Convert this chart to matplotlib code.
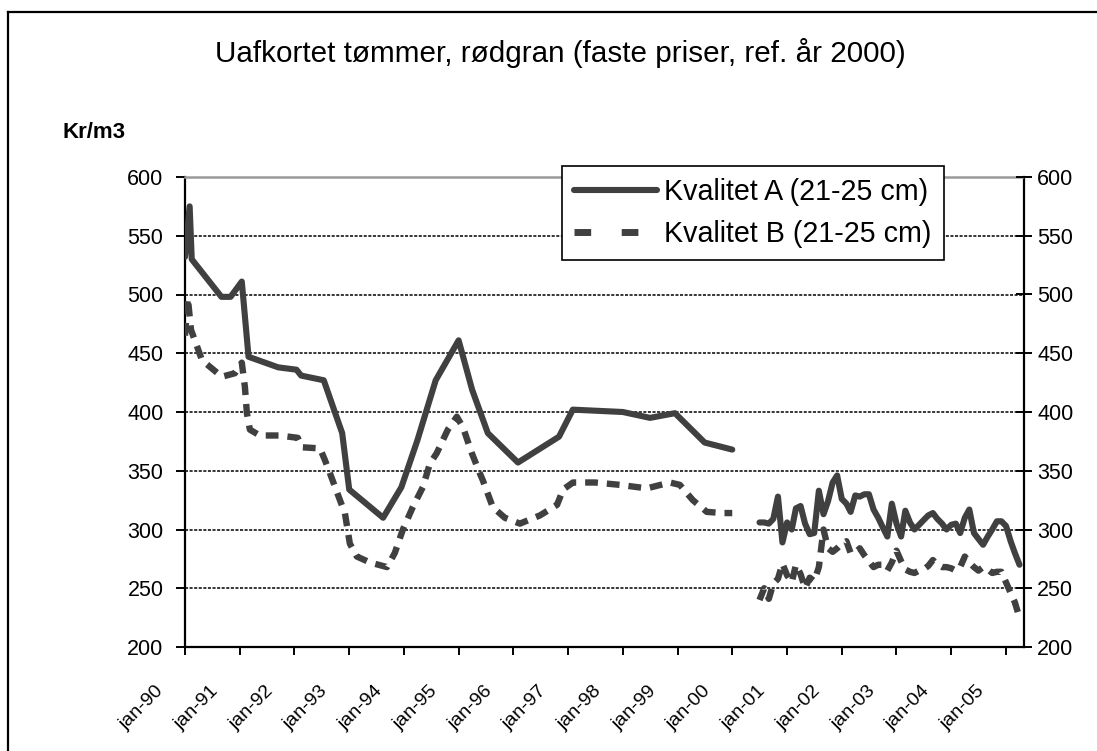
import numpy as np
import pandas as pd
import matplotlib
matplotlib.use('Agg')
import matplotlib.pyplot as plt
from matplotlib.lines import Line2D
from matplotlib.transforms import ScaledTranslation

plt.rcParams['font.family'] = ['Liberation Sans', 'DejaVu Sans']

# Kvalitet A, 1990-2000 (uregelmessige datoer)
datoer_a_90 = ['1990-01-01', '1990-02-01', '1990-02-15', '1990-09-01', '1990-11-01',
               '1991-01-15', '1991-03-01', '1991-09-15', '1992-01-15', '1992-02-15',
               '1992-07-15', '1992-11-15', '1993-01-01', '1993-08-15', '1993-12-15',
               '1994-04-01', '1994-08-01', '1995-01-01', '1995-04-01', '1995-07-15',
               '1996-02-01', '1996-11-01', '1997-02-01', '1998-01-01', '1998-07-01',
               '1998-12-15', '1999-07-01', '2000-01-01']
kval_a_90 = [532, 575, 530, 498, 498, 511, 447, 438, 436, 431, 427, 382, 334, 310, 336,
             376, 427, 461, 419, 382, 357, 379, 402, 400, 395, 399, 374, 368]

# Kvalitet B, 1990-2000
datoer_b_90 = ['1990-01-01', '1990-01-20', '1990-02-10', '1990-04-25', '1990-09-04',
               '1990-11-30', '1991-01-15', '1991-02-05', '1991-02-18', '1991-03-10',
               '1991-05-15', '1991-09-25', '1992-01-24', '1992-02-20', '1992-06-20',
               '1992-07-23', '1992-08-25', '1992-10-31', '1992-12-03', '1993-01-05',
               '1993-02-21', '1993-05-18', '1993-09-10', '1993-11-01', '1993-12-25',
               '1994-03-01', '1994-05-07', '1994-06-23', '1994-08-08', '1994-10-21',
               '1994-12-20', '1995-01-30', '1995-03-30', '1995-05-22', '1995-06-11',
               '1995-08-17', '1995-11-05', '1996-02-14', '1996-06-27', '1996-10-19',
               '1996-11-28', '1997-02-02', '1997-06-29', '1997-12-12', '1998-06-10',
               '1998-11-11', '1999-01-16', '1999-04-13', '1999-07-15', '1999-10-30',
               '2000-01-01']
kval_b_90 = [465, 497, 470, 444, 430, 433, 442, 421, 399, 385, 380, 380, 378, 370, 369,
             359, 348, 325, 314, 288, 277, 272, 268, 280, 300, 319, 336, 356, 365, 385,
             396, 387, 365, 348, 342, 319, 310, 305, 312, 321, 334, 340, 340, 338, 335,
             340, 338, 325, 315, 314, 314]

# maanedlige priser juli 2000 - april 2005
start_mnd = '2000-07-01'
kval_a_00 = [306, 306, 305, 309, 328, 289, 306, 300, 318, 320, 305, 296, 297, 333, 313,
             324, 340, 346, 326, 322, 315, 329, 328, 330, 330, 317, 310, 302, 294, 322,
             305, 294, 316, 306, 300, 304, 308, 312, 314, 309, 305, 300, 304, 305, 297,
             310, 317, 297, 292, 287, 294, 300, 307, 307, 303, 290, 280, 270]
kval_b_00 = [240, 250, 241, 254, 258, 271, 261, 255, 270, 262, 250, 259, 256, 268, 300,
             284, 281, 284, 288, 290, 280, 280, 284, 278, 273, 268, 270, 270, 265, 272,
             282, 273, 266, 264, 263, 265, 266, 269, 274, 270, 268, 268, 267, 265, 268,
             277, 272, 268, 265, 268, 266, 263, 264, 264, 255, 246, 238, 225]

aar = list(range(1990, 2006))
x_etiketter = [f'jan-{a % 100:02d}' for a in aar]

mnd_00 = pd.date_range(start_mnd, periods=len(kval_a_00), freq='MS')
hull = pd.to_datetime(['2000-04-01'])

x_a = pd.to_datetime(datoer_a_90).append(hull).append(mnd_00)
y_a = np.concatenate([kval_a_90, [np.nan], kval_a_00])
x_b = pd.to_datetime(datoer_b_90).append(hull).append(mnd_00)
y_b = np.concatenate([kval_b_90, [np.nan], kval_b_00])

farge = '#404040'
W, H = 1097, 751
fig = plt.figure(figsize=(W / 100, H / 100), dpi=100)
ax = fig.add_axes([185 / W, 1 - 647 / H, (1024 - 185) / W, (647 - 177) / H])

ax.plot(x_a, y_a, color=farge, lw=4.4, solid_capstyle='round', solid_joinstyle='round', zorder=3)
ax.plot(x_b, y_b, color=farge, lw=4.6, dashes=(2.0, 1.4), dash_capstyle='butt', zorder=3)

ax.set_ylim(200, 600)
ax.set_yticks(range(200, 601, 50))
ax.set_xlim(pd.Timestamp('1990-01-01'), pd.Timestamp('2005-05-01'))
ax.set_xticks(pd.to_datetime([f'{a}-01-01' for a in aar]))
ax.set_xticklabels(x_etiketter, rotation=45, ha='center', va='center', fontsize=14)

for g in range(250, 600, 50):
    ax.axhline(g, color='black', lw=1.1, ls=(0, (2, 1)), zorder=1)

for s in ['left', 'bottom', 'right']:
    ax.spines[s].set_linewidth(1.6)
ax.spines['top'].set_color('#999999')
ax.spines['top'].set_linewidth(1.8)
ax.spines['top'].set_linestyle((0, (2, 1)))

ax.tick_params(axis='y', direction='out', length=6.5, width=1.4, pad=9, labelsize=15.5)
ax.tick_params(axis='x', direction='out', length=6, width=1.4, pad=38)
for lab in ax.get_xticklabels():
    lab.set_transform(lab.get_transform() + ScaledTranslation(-0.43, 0, fig.dpi_scale_trans))

ax2 = ax.twinx()
ax2.set_ylim(200, 600)
ax2.set_yticks(range(200, 601, 50))
ax2.tick_params(axis='y', direction='inout', length=12, width=1.4, pad=3.6, labelsize=15.5)
for s in ax2.spines.values():
    s.set_visible(False)

# legende
h_a = Line2D([], [], color=farge, lw=4.4, solid_capstyle='round')
h_b = Line2D([], [], color=farge, lw=5, dashes=(2.4, 4.4), dash_capstyle='butt')
leg = ax.legend([h_a, h_b], ['Kvalitet A (21-25 cm)', 'Kvalitet B (21-25 cm)'],
                loc='upper left', bbox_to_anchor=(562 / W, 1 - 166 / H),
                bbox_transform=fig.transFigure, fontsize=20.6, frameon=True,
                fancybox=False, framealpha=1, edgecolor='black', borderaxespad=0,
                handlelength=2.9, handletextpad=0.25, labelspacing=0.48, borderpad=0.42)
leg.get_frame().set_linewidth(1.2)
leg.set_zorder(5)

fig.text(560 / W, 1 - 53 / H, 'Uafkortet tømmer, rødgran (faste priser, ref. år 2000)',
         ha='center', va='center', fontsize=21.3)
fig.text(63 / W, 1 - 132 / H, 'Kr/m3', ha='left', va='center', fontsize=16, fontweight='bold')

# ramme rundt figuren
fig.add_artist(Line2D([8 / W, 1.0], [1 - 12 / H, 1 - 12 / H], color='black', lw=1.6,
                      transform=fig.transFigure))
fig.add_artist(Line2D([8 / W, 8 / W], [1 - 12 / H, 0], color='black', lw=1.6,
                      transform=fig.transFigure))

fig.savefig('out.png', dpi=100)
